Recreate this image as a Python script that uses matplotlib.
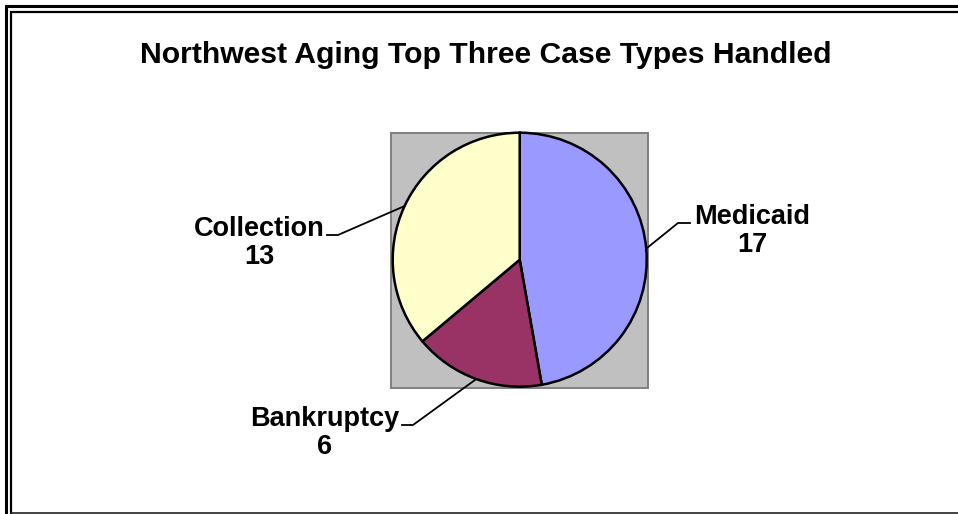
import numpy as np
import matplotlib
matplotlib.use('Agg')
import matplotlib.pyplot as plt
from matplotlib.patches import Rectangle

# data
categories = ['Medicaid', 'Bankruptcy', 'Collection']
case_counts = [17, 6, 13]
slice_colors = ['#9999FF', '#993366', '#FFFFCC']
title = 'Northwest Aging Top Three Case Types Handled'

W, H = 958, 514

def fy(y):
    # pixel row (top-down) -> axes y
    return H - y

plt.rcParams['font.family'] = ['Liberation Sans', 'DejaVu Sans']

fig = plt.figure(figsize=(W / 100, H / 100), dpi=100)
ax = fig.add_axes([0, 0, 1, 1])

# gray plot area behind the pie
ax.add_patch(Rectangle((391.5, fy(387.5)), 256.5, 255, facecolor='#C0C0C0',
                       edgecolor='#808080', linewidth=1.4, zorder=0))

cx, cy, r = 519.7, fy(259.7), 127
wedges, _ = ax.pie(case_counts, colors=slice_colors, startangle=90, counterclock=False,
                   center=(cx, cy), radius=r,
                   wedgeprops=dict(edgecolor='black', linewidth=1.8))

# label positions (text centre) and leader elbows, top-down pixels
label_pos = [(752, 231), (325, 433), (259, 243)]
elbows = [((678, 223), (690, 223)), ((413, 425), (402, 425)), ((338, 235), (327, 235))]

for w, name, val, (tx, ty), (e1, e2) in zip(wedges, categories, case_counts, label_pos, elbows):
    mid = np.deg2rad((w.theta1 + w.theta2) / 2)
    px, py = cx + r * np.cos(mid), cy + r * np.sin(mid)
    ax.plot([px, e1[0], e2[0]], [py, fy(e1[1]), fy(e2[1])], color='black', lw=1.3,
            solid_joinstyle='miter')
    ax.text(tx, fy(ty), '{}\n{}'.format(name, val), ha='center', va='center',
            fontsize=19.5, fontweight='bold', linespacing=1.05)

ax.text(486, fy(55), title, ha='center', va='center', fontsize=21.7, fontweight='bold')

# chart frame
ax.plot([6, 6, 970], [fy(530), fy(6), fy(6)], color='black', lw=2.2, clip_on=False,
        solid_joinstyle='miter')
ax.plot([11, 11, 970], [fy(512.5), fy(11.5), fy(11.5)], color='black', lw=1.6, clip_on=False,
        solid_joinstyle='miter')
ax.plot([11, 970], [fy(512.5), fy(512.5)], color='#222222', lw=1.2, clip_on=False)

ax.set_xlim(0, W)
ax.set_ylim(0, H)
ax.set_aspect('equal')
ax.axis('off')

fig.savefig('out.png', dpi=100)
